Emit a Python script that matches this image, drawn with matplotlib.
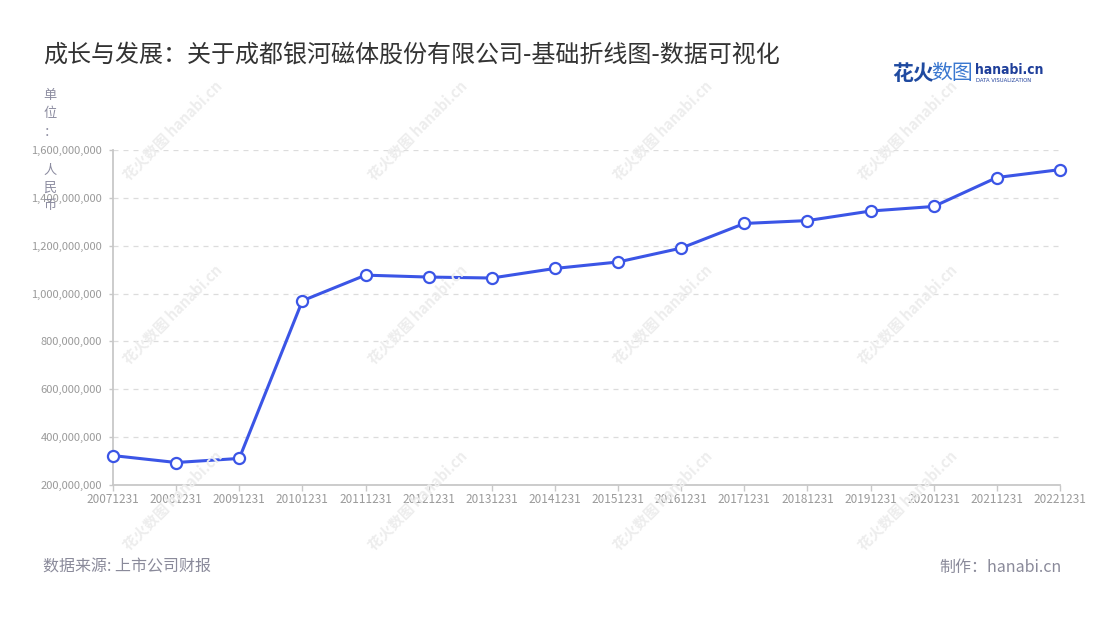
import matplotlib
matplotlib.use("Agg")
from matplotlib import pyplot as plt
from matplotlib.ticker import FuncFormatter

plt.rcParams['font.family'] = ['Noto Sans CJK SC', 'DejaVu Sans']

# data (人民币)
dates = ['20071231', '20081231', '20091231', '20101231', '20111231', '20121231',
         '20131231', '20141231', '20151231', '20161231', '20171231', '20181231',
         '20191231', '20201231', '20211231', '20221231']
values = [323e6, 294e6, 311e6, 970e6, 1077e6, 1069e6, 1065e6, 1105e6,
          1132e6, 1190e6, 1293e6, 1305e6, 1345e6, 1364e6, 1485e6, 1518e6]
yticks = [200e6, 400e6, 600e6, 800e6, 1000e6, 1200e6, 1400e6, 1600e6]

title = '成长与发展：关于成都银河磁体股份有限公司-基础折线图-数据可视化'
unit = ['单', '位', '：', '人', '民', '币']
source = '数据来源: 上市公司财报'
maker = '制作：hanabi.cn'

W, H = 1100, 620
blue = '#3b55e6'
grey = '#9a9a9a'


def fx(x):
    return x / W


def fy(y):
    return 1 - y / H


fig = plt.figure(figsize=(11, 6.2), dpi=100)
ax = fig.add_axes([fx(113), fy(485), fx(1060) - fx(113), fy(150) - fy(485)])

# watermarks
for wy in [183, 367, 553]:
    for wx in [131, 376, 621, 866]:
        fig.text(fx(wx), fy(wy), '花火数图 hanabi.cn', rotation=45,
                 rotation_mode='anchor', ha='left', va='bottom',
                 fontsize=10.5, fontweight='bold', color='#ededed', zorder=0)

x = list(range(len(dates)))
ax.plot(x, values, color=blue, lw=2.2, marker='o', ms=8,
        mfc='white', mec=blue, mew=1.6, zorder=5, clip_on=False)

ax.set_xlim(0, len(dates) - 1)
ax.set_ylim(200e6, 1600e6)
ax.set_xticks(x)
ax.set_xticklabels(dates)
ax.set_yticks(yticks)
ax.yaxis.set_major_formatter(FuncFormatter(lambda v, p: f'{int(v):,}'))
ax.tick_params(axis='x', colors='#c8c8c8', labelcolor=grey, labelsize=8.5,
               length=4, width=1, pad=2)
ax.tick_params(axis='y', colors='#c8c8c8', labelcolor=grey, labelsize=8,
               length=3, width=1, pad=5)

ax.grid(axis='y', color='#dcdcdc', ls=(0, (4, 4)), lw=0.9)
ax.set_axisbelow(True)
ax.set_facecolor('none')
for s in ['top', 'right']:
    ax.spines[s].set_visible(False)
for s in ['left', 'bottom']:
    ax.spines[s].set_color('#c8c8c8')
    ax.spines[s].set_linewidth(1.3)

# texts
fig.text(fx(43), fy(55), title, fontsize=17.3, color='#333333', va='center')
for ch, uy in zip(unit, [96, 114, 132, 170, 188, 206]):
    fig.text(fx(50), fy(uy), ch, fontsize=9.5, color='#8c8ca0',
             ha='center', va='center')
fig.text(fx(43), fy(567), source, fontsize=11.5, color='#8a8a9a', va='center')
fig.text(fx(1062), fy(567), maker, fontsize=11.5, color='#8a8a9a',
         va='center', ha='right')

# logo
fig.text(fx(892), fy(73), '花火', fontsize=15, fontweight='heavy',
         color='#1f4aa0', va='center')
fig.text(fx(931), fy(73), '数图', fontsize=15, color='#3a78d0', va='center')
fig.text(fx(975), fy(70), 'hanabi.cn', fontsize=10, fontweight='bold',
         color='#1f3f9a', va='center', family='DejaVu Sans',
         fontstretch='condensed')
fig.text(fx(976), fy(81), 'DATA VISUALIZATION', fontsize=3.8,
         color='#1f3f9a', va='center', family='DejaVu Sans')

fig.savefig('out.png', dpi=100)
